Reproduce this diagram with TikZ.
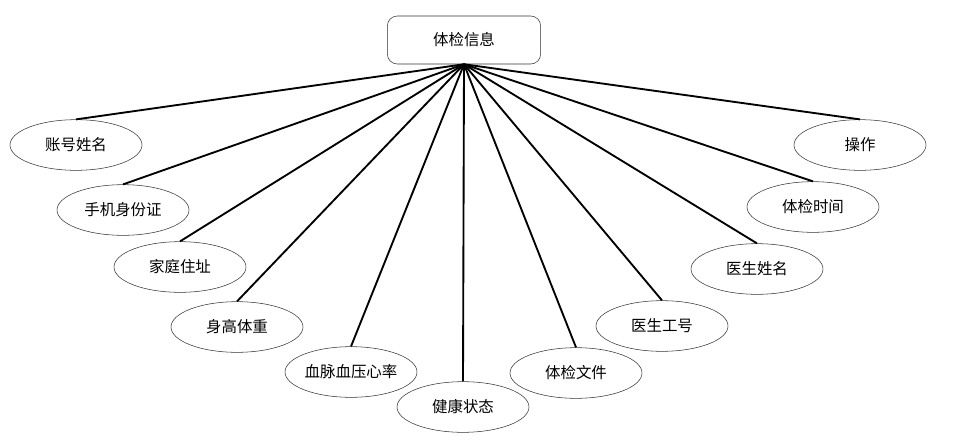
\documentclass[tikz,border=0pt]{standalone}
\usepackage{fontspec}
\setmainfont{Noto Sans CJK SC}
\usepackage{tikz}
\usetikzlibrary{shapes.geometric}
\definecolor{edge}{HTML}{333333}

\begin{document}
\begin{tikzpicture}[
  x=0.75pt, y=-0.75pt,
  font=\fontsize{11.6}{13}\selectfont,
  root/.style={draw=edge, fill=white, rounded corners=7.5pt, minimum width=115pt,
               minimum height=36pt, inner sep=0pt},
  attr/.style={ellipse, draw=edge, fill=white, minimum width=99pt, minimum height=38pt,
               inner sep=0pt},
  link/.style={draw=black, line width=1.4pt}
]
\useasboundingbox (0,0) rectangle (960,446);

\node[root] (info) at (464,40) {体检信息};

\node[attr] (acct)   at (76,145)  {账号姓名};
\node[attr] (phone)  at (123,210) {手机身份证};
\node[attr] (addr)   at (180,267) {家庭住址};
\node[attr] (body)   at (237,327) {身高体重};
\node[attr] (pulse)  at (351,372) {血脉血压心率};
\node[attr] (health) at (463,407) {健康状态};
\node[attr] (file)   at (576,373) {体检文件};
\node[attr] (docno)  at (662,326) {医生工号};
\node[attr] (docnm)  at (757,269) {医生姓名};
\node[attr] (time)   at (813,207) {体检时间};
\node[attr] (op)     at (860,145) {操作};

\foreach \n in {acct,phone,addr,body,pulse,health,file,docno,docnm,time,op}
  \draw[link] (info.south) -- (\n.north);
\end{tikzpicture}
\end{document}
